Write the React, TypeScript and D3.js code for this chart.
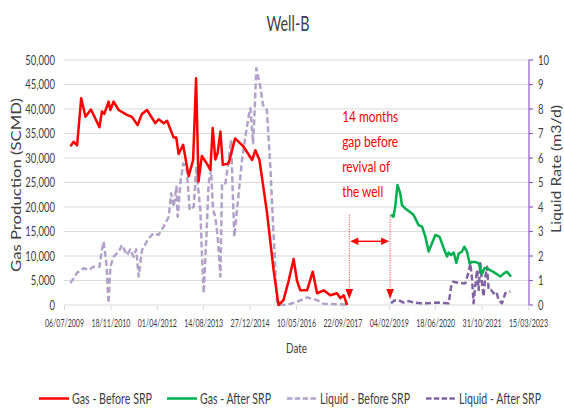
import * as d3 from "d3";
import { useLayoutEffect, useRef, useState } from "react";

const W = 564;
const H = 408;
const FONT = "Lato, 'Open Sans', sans-serif";
const TXT = "#404040";

// axis ticks
const xTickLabels = [
  "06/07/2009", "18/11/2010", "01/04/2012", "14/08/2013", "27/12/2014", "10/05/2016",
  "22/09/2017", "04/02/2019", "18/06/2020", "31/10/2021", "15/03/2023",
];
const gasTicks = [0, 5000, 10000, 15000, 20000, 25000, 30000, 35000, 40000, 45000, 50000];
const liquidTicks = [0, 1, 2, 3, 4, 5, 6, 7, 8, 9, 10];

// Gas - Before SRP (SCMD)
const gasBeforeDates = [
  "2009-09-08", "2009-10-13", "2009-11-19", "2010-01-02", "2010-02-17", "2010-04-17", "2010-07-18",
  "2010-08-13", "2010-09-08", "2010-10-24", "2010-11-12", "2010-12-17", "2011-02-10", "2011-05-10",
  "2011-07-03", "2011-09-02", "2011-10-18", "2011-12-12", "2012-03-10", "2012-04-15", "2012-06-09",
  "2012-07-15", "2012-09-23", "2012-10-22", "2012-11-17", "2013-01-04", "2013-03-05", "2013-04-22",
  "2013-05-24", "2013-06-19", "2013-07-25", "2013-09-19", "2013-10-25", "2013-11-19", "2013-12-17",
  "2014-01-11", "2014-02-10", "2014-03-08", "2014-05-10", "2014-07-18", "2014-10-18", "2015-01-18",
  "2015-02-22", "2015-04-07", "2015-06-26", "2015-09-07", "2015-10-29", "2015-12-22", "2016-02-16",
  "2016-04-09", "2016-05-15", "2016-06-20", "2016-09-01", "2016-11-01", "2016-12-18", "2017-02-28",
  "2017-05-09", "2017-07-20", "2017-08-25", "2017-10-01", "2017-11-06",
];
const gasBeforeValues = [
  32400, 33300, 32600, 42200, 38400, 39900, 36300,
  39500, 39000, 41500, 39800, 41500, 39800, 38800,
  38400, 36700, 39000, 39800, 37100, 37900, 37100,
  37600, 34200, 34200, 30800, 32700, 26300, 29600,
  46300, 25200, 30400, 28800, 27600, 36100, 29700,
  31000, 35400, 28600, 28900, 34000, 32300, 29600,
  31600, 29600, 19000, 7000, 0, 1000, 5000,
  9400, 5000, 3000, 3000, 6800, 2400, 3000,
  2000, 2400, 1400, 2000, 0,
];

// Gas - After SRP (SCMD)
const gasAfterDates = [
  "2019-02-23", "2019-03-21", "2019-04-09", "2019-05-03", "2019-06-02", "2019-06-20", "2019-07-25",
  "2019-09-01", "2019-10-23", "2019-12-17", "2020-01-23", "2020-02-28", "2020-04-03", "2020-05-09",
  "2020-06-14", "2020-07-30", "2020-09-12", "2020-10-18", "2020-11-05", "2020-12-01", "2020-12-29",
  "2021-01-27", "2021-02-21", "2021-03-28", "2021-04-22", "2021-05-21", "2021-06-18", "2021-07-14",
  "2021-08-19", "2021-09-24", "2021-10-30", "2021-11-24", "2021-12-24", "2022-01-28", "2022-03-24",
  "2022-05-15", "2022-06-27", "2022-07-26", "2022-09-08",
];
const gasAfterValues = [
  18400, 18000, 20100, 24500, 22800, 20400, 19700,
  19200, 18400, 16300, 16000, 13900, 10900, 12600,
  14300, 13900, 11600, 9900, 10700, 10200, 10700,
  8600, 10500, 10900, 11900, 10900, 8500, 8800,
  8800, 8500, 6300, 7500, 7500, 7100, 6500,
  5800, 6500, 6800, 5800,
];

// Liquid - Before SRP (m3/d)
const liquidBeforeDates = [
  "2009-09-08", "2009-11-19", "2010-01-29", "2010-03-23", "2010-05-15", "2010-07-18", "2010-08-13",
  "2010-09-01", "2010-09-30", "2010-10-24", "2010-11-12", "2010-12-17", "2011-02-10", "2011-03-18",
  "2011-05-10", "2011-06-15", "2011-07-20", "2011-08-18", "2011-09-13", "2011-10-19", "2011-12-29",
  "2012-02-22", "2012-04-15", "2012-06-09", "2012-08-02", "2012-08-28", "2012-09-25", "2012-10-24",
  "2012-11-07", "2012-12-06", "2013-01-05", "2013-02-10", "2013-03-16", "2013-04-28", "2013-05-27",
  "2013-06-10", "2013-07-09", "2013-07-27", "2013-08-14", "2013-09-12", "2013-10-06", "2013-11-01",
  "2013-11-23", "2013-12-17", "2014-01-12", "2014-02-10", "2014-02-28", "2014-04-05", "2014-05-10",
  "2014-06-05", "2014-06-26", "2014-07-10", "2014-08-08", "2014-10-01", "2014-11-06", "2014-12-11",
  "2014-12-30", "2015-01-28", "2015-02-11", "2015-03-04", "2015-04-16", "2015-05-15", "2015-06-26",
  "2015-08-02", "2015-09-07", "2015-10-13", "2015-12-20", "2016-03-05", "2016-05-15", "2016-09-01",
  "2016-12-18", "2017-02-24", "2017-11-06",
];
const liquidBeforeValues = [
  0.89, 1.32, 1.5, 1.43, 1.56, 1.56, 2.24,
  2.58, 1.7, 0.07, 1.56, 1.97, 2.18, 2.45,
  2.04, 2.27, 1.97, 2.27, 1.16, 2.24, 2.72,
  2.93, 2.86, 3.2, 3.6, 4.56, 4.01, 4.83,
  3.6, 4.97, 5.78, 5.64, 3.88, 4.01, 5.64,
  4.97, 3.88, 1.97, 0.48, 2.79, 4.97, 5.51,
  3.88, 3.6, 2.79, 1.16, 4.97, 4.97, 5.92,
  6.73, 4.29, 2.79, 3.88, 5.92, 6.87, 7.69,
  8.03, 6.6, 7.69, 9.66, 8.91, 8.16, 7.96,
  5.64, 2.79, 0.07, 0, 0.05, 0.13, 0.31,
  0.2, 0.05, 0.02,
];

// Liquid - After SRP (m3/d)
const liquidAfterDates = [
  "2019-02-23", "2019-03-29", "2019-05-15", "2019-07-08", "2019-09-01", "2019-10-24", "2020-01-05",
  "2020-03-17", "2020-07-03", "2020-11-05", "2020-12-01", "2020-12-22", "2021-03-10", "2021-05-04",
  "2021-06-08", "2021-06-26", "2021-07-14", "2021-07-31", "2021-08-18", "2021-09-06", "2021-09-24",
  "2021-10-12", "2021-10-30", "2021-11-16", "2021-12-05", "2021-12-23", "2022-01-10", "2022-02-05",
  "2022-03-04", "2022-04-03", "2022-04-27", "2022-06-02", "2022-07-08", "2022-08-31",
];
const liquidAfterValues = [
  0.07, 0.18, 0.2, 0.1, 0.16, 0.1, 0.07,
  0.07, 0.1, 0.07, 0.75, 0.95, 0.89, 0.89,
  1.36, 1.7, 1.09, 0.07, 0.75, 1.43, 0.61,
  1.7, 0.89, 0.34, 1.16, 1.56, 0.61, 0.61,
  0.48, 0.54, 0.2, 0.07, 0.48, 0.54,
];

const legendLabels = ["Gas - Before SRP", "Gas - After SRP", "Liquid - Before SRP", "Liquid - After SRP"];
const noteLines = ["14 months", "gap before", "revival of", "the well"];
const gapDates = ["2017-11-30", "2019-02-13"];

const parse = d3.timeParse("%Y-%m-%d");
const parseTick = d3.timeParse("%d/%m/%Y");

// text squeezed horizontally to a given width (the reference's fonts are narrow)
function FitText({ x, y, width, anchor = "start", rotate = false, size, fill = TXT, children }: any) {
  const ref = useRef<SVGTextElement>(null);
  const [k, setK] = useState(0.7);
  useLayoutEffect(() => {
    if (!ref.current) return;
    const n = ref.current.getComputedTextLength();
    if (n > 0) setK(width / n);
  }, [width, children, size]);
  const tr = rotate
    ? `translate(${x},${y}) rotate(-90) scale(${k},1)`
    : `translate(${x},${y}) scale(${k},1)`;
  return (
    <text ref={ref} transform={tr} textAnchor={anchor} fontSize={size} fill={fill}>{children}</text>
  );
}

export default function App() {
  const left = 64.5, right = 528.5, top = 60, bottom = 305;
  const tickDates = xTickLabels.map((s) => parseTick(s) as Date);
  const x = d3.scaleTime().domain([tickDates[0], tickDates[tickDates.length - 1]]).range([left, right]);
  const yGas = d3.scaleLinear().domain([0, 50000]).range([bottom, top]);
  const yLiq = d3.scaleLinear().domain([0, 10]).range([bottom, top]);

  const series = [
    { name: legendLabels[2], dates: liquidBeforeDates, values: liquidBeforeValues, y: yLiq, color: "#B3A2C7", dash: "6,3" },
    { name: legendLabels[3], dates: liquidAfterDates, values: liquidAfterValues, y: yLiq, color: "#8064A2", dash: "6,3" },
    { name: legendLabels[0], dates: gasBeforeDates, values: gasBeforeValues, y: yGas, color: "#FF0000", dash: null },
    { name: legendLabels[1], dates: gasAfterDates, values: gasAfterValues, y: yGas, color: "#00B050", dash: null },
  ];

  const lineFor = (s: any) =>
    d3.line<number>()
      .x((_, i) => x(parse(s.dates[i]) as Date))
      .y((v) => s.y(v))(s.values) || "";

  // annotation geometry from the scales
  const gx = gapDates.map((d) => x(parse(d) as Date));
  const tipY = yGas(0) - 6;
  const topY = yGas(18500);
  const arrowY = yGas(13000);
  const noteX = x(parse("2017-09-14") as Date);
  const noteY0 = yGas(37300);
  const noteLens = [56, 56, 48, 41];

  const legendItems = [
    { label: legendLabels[0], color: "#FF0000", dash: null, x: 39, len: 80 },
    { label: legendLabels[1], color: "#00B050", dash: null, x: 167, len: 71 },
    { label: legendLabels[2], color: "#B3A2C7", dash: "5.5,2.3", x: 287, len: 90 },
    { label: legendLabels[3], color: "#8064A2", dash: "5.5,2.3", x: 426, len: 82 },
  ];
  const fmt = d3.format(",");

  return (
    <div style={{ position: "absolute", left: 0, top: 0 }}>
      <svg width={W} height={H} style={{ display: "block", fontFamily: FONT }}>
        <rect width={W} height={H} fill="#ffffff" />

        {/* gridlines */}
        {gasTicks.slice(1).map((t) => (
          <line key={t} x1={left - 0.5} x2={right + 0.5} y1={yGas(t)} y2={yGas(t)} stroke="#D9D9D9" strokeWidth={1} />
        ))}

        {/* x axis */}
        <line x1={left - 0.5} x2={right + 0.5} y1={bottom} y2={bottom} stroke="#D9D9D9" strokeWidth={1} />
        {tickDates.map((d, i) => (
          <g key={i}>
            <line x1={x(d)} x2={x(d)} y1={bottom} y2={bottom + 5} stroke="#D9D9D9" />
            <FitText x={x(d)} y={326.5} size={12} width={39} anchor="middle">{xTickLabels[i]}</FitText>
          </g>
        ))}

        {/* left axis labels */}
        {gasTicks.map((t) => (
          <text key={t} transform={`translate(55,${yGas(t) + 4.7}) scale(0.73,1)`} fontSize={13}
            fill={TXT} textAnchor="end">{fmt(t)}</text>
        ))}

        {/* right axis */}
        <line x1={right + 0.5} x2={right + 0.5} y1={top} y2={bottom} stroke="#8E5CC6" strokeWidth={1.2} />
        {liquidTicks.map((t) => (
          <g key={t}>
            <line x1={right + 0.5} x2={right + 4.5} y1={yLiq(t)} y2={yLiq(t)} stroke="#8E5CC6" strokeWidth={1.2} />
            <text transform={`translate(538,${yLiq(t) + 4.7}) scale(0.73,1)`} fontSize={13} fill={TXT}>{t}</text>
          </g>
        ))}

        {/* series */}
        {series.map((s) => (
          <path key={s.name} d={lineFor(s)} fill="none" stroke={s.color} strokeWidth={2.5}
            strokeDasharray={s.dash || undefined} strokeLinejoin="round" />
        ))}

        {/* gap annotation */}
        {gx.map((px, i) => (
          <g key={i}>
            <line x1={px} x2={px} y1={topY} y2={tipY - 9} stroke="#FF3B3B" strokeWidth={0.9} strokeDasharray="1.2,1.2" />
            <path d={`M${px - 3.8},${tipY - 10}L${px + 3.8},${tipY - 10}L${px},${tipY}Z`} fill="#FF0000" />
          </g>
        ))}
        <line x1={gx[0] + 7} x2={gx[1] - 7} y1={arrowY} y2={arrowY} stroke="#FF0000" strokeWidth={1.4} />
        <path d={`M${gx[0] + 1},${arrowY}L${gx[0] + 9},${arrowY - 3.8}L${gx[0] + 9},${arrowY + 3.8}Z`} fill="#FF0000" />
        <path d={`M${gx[1] - 1},${arrowY}L${gx[1] - 9},${arrowY - 3.8}L${gx[1] - 9},${arrowY + 3.8}Z`} fill="#FF0000" />
        {noteLines.map((l, i) => (
          <FitText key={l} x={noteX} y={noteY0 + i * 25} size={15.5} fill="#FF0000" width={noteLens[i]}>{l}</FitText>
        ))}

        {/* titles */}
        <FitText x={288} y={31} size={21} width={43} anchor="middle">Well-B</FitText>
        <FitText x={296.5} y={353} size={14} width={21} anchor="middle">Date</FitText>
        <FitText x={21} y={185} size={13} width={174} anchor="middle" rotate>Gas Production (SCMD)</FitText>
        <FitText x={561} y={169} size={13} width={128} anchor="middle" rotate>Liquid Rate (m3/d)</FitText>

        {/* legend */}
        {legendItems.map((it) => (
          <g key={it.label}>
            <line x1={it.x} x2={it.x + 30} y1={398.5} y2={398.5} stroke={it.color} strokeWidth={2.5}
              strokeDasharray={it.dash || undefined} />
            <FitText x={it.x + 33} y={403.5} size={14.5} width={it.len}>{it.label}</FitText>
          </g>
        ))}
      </svg>
    </div>
  );
}
